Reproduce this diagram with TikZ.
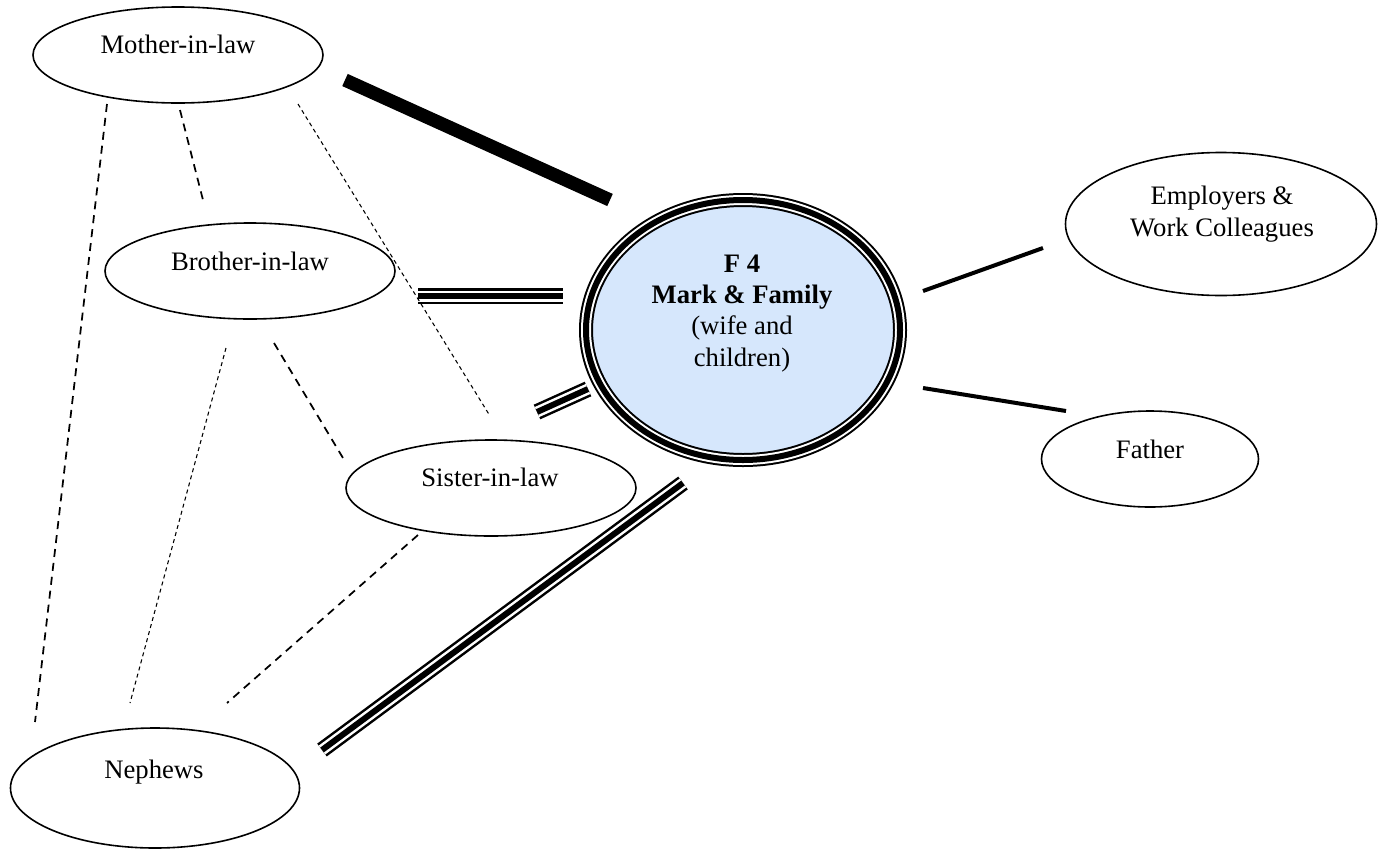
\documentclass[tikz,border=0pt]{standalone}
\usepackage{fontspec}
\setmainfont{Liberation Serif}
\usetikzlibrary{shapes.geometric}
\definecolor{familyblue}{RGB}{214,231,252}

\tikzset{
    person/.style={ellipse, draw, line width=1.2pt, inner sep=0pt},
    nametext/.style={anchor=base, inner sep=0pt},
    strongtie/.style={line width=10pt},
    tie/.style={line width=3pt},
    tripletie/.style={line width=12pt, postaction={draw=white, line width=8.25pt},
        postaction={draw=black, line width=4.5pt}},
    weaktie/.style={line width=1.3pt, dash pattern=on 6pt off 4.5pt},
    thintie/.style={line width=0.8pt, dash pattern=on 3pt off 2.5pt}
}

\begin{document}
\begin{tikzpicture}[x=0.75pt, y=-0.75pt, every node/.style={font=\fontsize{20}{23.5}\selectfont}]
    \useasboundingbox (0,0) rectangle (1378,850);

    % Mark and his family in the middle
    \node[ellipse, draw=black, line width=10.5pt, fill=familyblue, inner sep=0pt,
        minimum width=235.5pt, minimum height=195pt,
        postaction={draw=white, line width=7.5pt},
        postaction={draw=black, line width=4.5pt}] (fam) at (743,330) {};
    \node[nametext, align=center] (fam-t) at (742,366)
        {\textbf{F 4}\\ \textbf{Mark \& Family}\\ (wife and\\ children)};

    % Wife's side of the family
    \node[person, minimum width=217.5pt, minimum height=72pt] (mil) at (178,55) {};
    \node[nametext] (mil-t) at (178,53) {Mother-in-law};

    \node[person, minimum width=217.5pt, minimum height=72pt] (bil) at (250,271) {};
    \node[nametext] (bil-t) at (250,270) {Brother-in-law};

    \node[person, minimum width=217.5pt, minimum height=72pt] (sil) at (491,488) {};
    \node[nametext] (sil-t) at (490,486) {Sister-in-law};

    \node[person, minimum width=216.75pt, minimum height=90pt] (nep) at (155,788) {};
    \node[nametext] (nep-t) at (154,778) {Nephews};

    % Right side
    \node[person, minimum width=233.25pt, minimum height=107.25pt] (emp) at (1221,224) {};
    \node[nametext, align=center] (emp-t) at (1222,236) {Employers \&\\ Work Colleagues};

    \node[person, minimum width=162.75pt, minimum height=72pt] (fat) at (1150,459) {};
    \node[nametext] (fat-t) at (1150,458) {Father};

    % Ends of the ties
    \coordinate (MF1) at (345,80);   \coordinate (MF2) at (610,200);
    \coordinate (BF1) at (418,296);  \coordinate (BF2) at (563,296);
    \coordinate (SF1) at (537,412);  \coordinate (SF2) at (588,389);
    \coordinate (NF1) at (322,750);  \coordinate (NF2) at (683,483);
    \coordinate (EF1) at (923,291);  \coordinate (EF2) at (1043,248);
    \coordinate (FF1) at (923,388);  \coordinate (FF2) at (1066,411);
    \coordinate (MN1) at (107,104);  \coordinate (MN2) at (35,722);
    \coordinate (MB1) at (180,110);  \coordinate (MB2) at (203,200);
    \coordinate (MS1) at (298,104);  \coordinate (MS2) at (490,416);
    \coordinate (BS1) at (274,343);  \coordinate (BS2) at (343,458);
    \coordinate (BN1) at (226,348);  \coordinate (BN2) at (130,703);
    \coordinate (SN1) at (418,535);  \coordinate (SN2) at (227,703);

    % Ties to the family
    \draw[strongtie] (MF1) -- (MF2);
    \draw[tripletie] (BF1) -- (BF2);
    \draw[tripletie] (SF1) -- (SF2);
    \draw[tripletie] (NF1) -- (NF2);
    \draw[tie] (EF1) -- (EF2);
    \draw[tie] (FF1) -- (FF2);

    % Ties among the in-laws
    \draw[weaktie] (MN1) -- (MN2);
    \draw[weaktie] (MB1) -- (MB2);
    \draw[thintie] (MS1) -- (MS2);
    \draw[weaktie] (BS1) -- (BS2);
    \draw[thintie] (BN1) -- (BN2);
    \draw[weaktie] (SN1) -- (SN2);
\end{tikzpicture}
\end{document}
